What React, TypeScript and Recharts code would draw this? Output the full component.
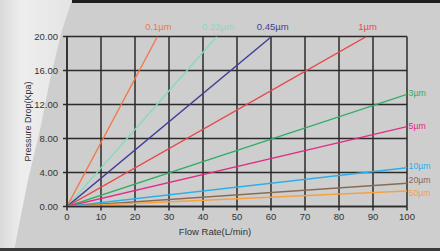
import React from 'react';
import { LineChart, Line, XAxis, YAxis, CartesianGrid, Label } from 'recharts';

const filterSizes = ['0.1µm', '0.22µm', '0.45µm', '1µm', '3µm', '5µm', '10µm', '20µm', '50µm'];
const endFlow = [26.6, 44.1, 60.2, 88.1, 100, 100, 100, 100, 100];
const endPressure = [20, 20, 20, 20, 13.2, 9.4, 4.56, 2.73, 1.82];
const xTicks = [0, 10, 20, 30, 40, 50, 60, 70, 80, 90, 100];
const yTicks = [0, 4, 8, 12, 16, 20];
const colors = ['#f2784b', '#86dabd', '#3f3f98', '#e8474a', '#2fae62', '#e22a86', '#2ab0e8', '#8b6a52', '#f5a142'];
// small vertical nudges for the right-hand labels (styling only)
const labelNudge = [0, 0, 0, 0, -1.5, -1, -1.5, -3, 1.5];

const FONT = '"Liberation Sans", Arial, sans-serif';

export default function App() {
  const series = filterSizes.map((name, i) => ({
    name,
    color: colors[i],
    nudge: labelNudge[i],
    data: [
      { flow: 0, dp: 0 },
      { flow: endFlow[i], dp: endPressure[i] },
    ],
  }));

  return (
    <div
      style={{
        position: 'absolute',
        left: 0,
        top: 0,
        width: 440,
        height: 251,
        background: '#cecece',
        overflow: 'hidden',
        fontFamily: FONT,
      }}
    >
      <svg width={440} height={251} style={{ position: 'absolute', left: 0, top: 0 }}>
        <defs>
          <linearGradient id="paper" x1="0" y1="0" x2="1" y2="0">
            <stop offset="0" stopColor="#d9d9d9" />
            <stop offset="0.3" stopColor="#eeeeee" />
            <stop offset="1" stopColor="#e4e4e4" />
          </linearGradient>
        </defs>
        <polygon
          points="0,0 72,0 62,30 50,80 40,130 28,180 18,230 14,251 0,251"
          fill="url(#paper)"
        />
        <rect x={72} y={0} width={368} height={3} fill="#1e1e1e" />
        <rect x={0} y={248} width={440} height={3} fill="#3a3a3a" />
      </svg>
      <LineChart
        width={440}
        height={251}
        margin={{ top: 36.5, right: 33, bottom: 14.5, left: 0 }}
        style={{ position: 'absolute', left: 0, top: 0 }}
      >
        <CartesianGrid stroke="#2b2b2b" strokeWidth={1.5} />
        <XAxis
          type="number"
          dataKey="flow"
          domain={[0, 100]}
          ticks={xTicks}
          allowDataOverflow
          height={30}
          tickSize={4}
          tickMargin={3}
          stroke="#2b2b2b"
          strokeWidth={1.5}
          tick={{ fill: '#333', fontSize: 9.5, fontFamily: FONT }}
        >
          <Label
            content={(props: any) => {
              const vb = props.viewBox;
              return (
                <text
                  x={vb.x + vb.width / 2 - 22}
                  y={vb.y + 24.5}
                  textAnchor="middle"
                  dominantBaseline="central"
                  fill="#333"
                  fontSize={9.5}
                  fontFamily={FONT}
                >
                  Flow Rate(L/min)
                </text>
              );
            }}
          />
        </XAxis>
        <YAxis
          type="number"
          dataKey="dp"
          domain={[0, 20]}
          ticks={yTicks}
          allowDataOverflow
          width={67}
          tickSize={4}
          tickMargin={5}
          stroke="#2b2b2b"
          strokeWidth={1.5}
          tickFormatter={(v: number) => v.toFixed(2)}
          tick={{ fill: '#333', fontSize: 9.5, fontFamily: FONT }}
        >
          <Label
            content={(props: any) => {
              const vb = props.viewBox;
              const cy = vb.y + vb.height / 2;
              return (
                <text
                  x={28}
                  y={cy}
                  transform={`rotate(-90, 28, ${cy})`}
                  textAnchor="middle"
                  dominantBaseline="central"
                  fill="#333"
                  fontSize={9}
                  fontFamily={FONT}
                >
                  Pressure Drop(Kpa)
                </text>
              );
            }}
          />
        </YAxis>
        {series.map((s) => (
          <Line
            key={s.name}
            data={s.data}
            dataKey="dp"
            stroke={s.color}
            strokeWidth={1.4}
            dot={false}
            activeDot={false}
            isAnimationActive={false}
            label={(p: any) => {
              if (p.index !== 1) return null;
              const top = s.data[1].dp >= 20;
              return top ? (
                <text
                  key={s.name + '-lbl'}
                  x={p.x + 1}
                  y={p.y - 10.5}
                  textAnchor="middle"
                  dominantBaseline="central"
                  fill={s.color}
                  fontSize={9.5}
                  fontFamily={FONT}
                >
                  {s.name}
                </text>
              ) : (
                <text
                  key={s.name + '-lbl'}
                  x={p.x + 1.5}
                  y={p.y + s.nudge}
                  textAnchor="start"
                  dominantBaseline="central"
                  fill={s.color}
                  fontSize={8.8}
                  fontFamily={FONT}
                >
                  {s.name}
                </text>
              );
            }}
          />
        ))}
      </LineChart>
    </div>
  );
}
